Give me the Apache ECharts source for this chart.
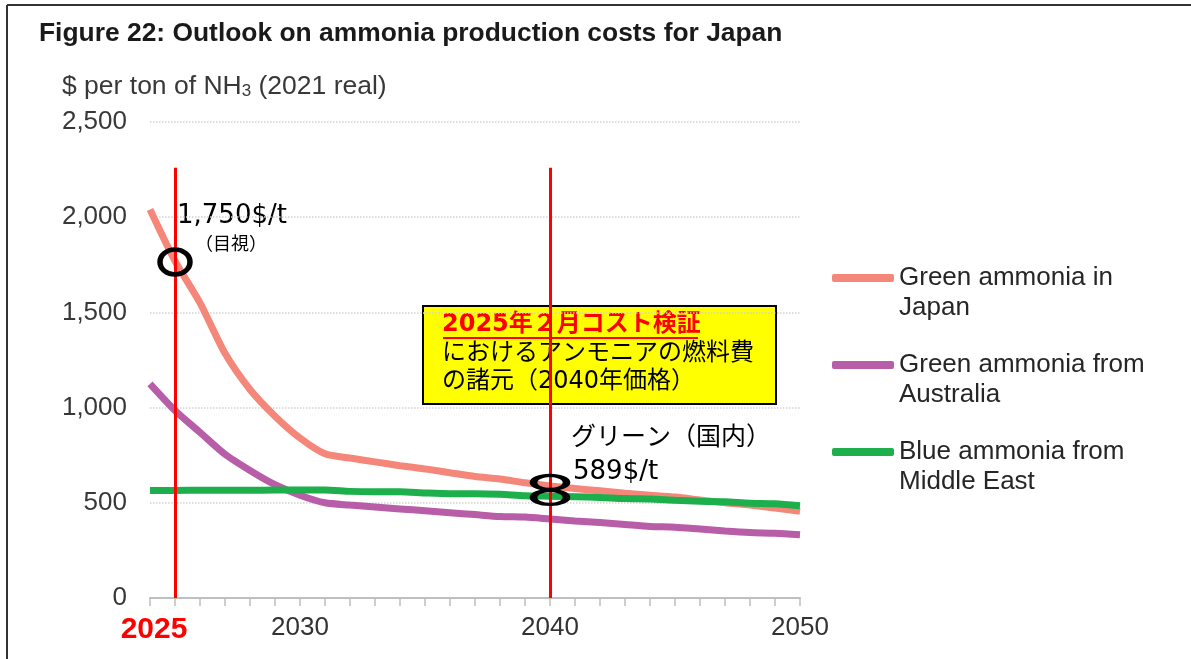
<!DOCTYPE html>
<html>
<head>
<meta charset="utf-8">
<script src="https://cdn.jsdelivr.net/npm/echarts@6/dist/echarts.min.js"></script>
<style>
  html, body { margin: 0; padding: 0; background: #fff; }
  #chart { width: 1191px; height: 659px; }
</style>
</head>
<body>
<div id="chart"></div>
<script>
// years on the x axis (one tick per year)
const years = [2024, 2025, 2026, 2027, 2028, 2029, 2030, 2031, 2032, 2033, 2034, 2035, 2036, 2037, 2038, 2039, 2040, 2041, 2042, 2043, 2044, 2045, 2046, 2047, 2048, 2049, 2050];

// $ per ton of NH3 (2021 real)
const greenJapan = [2040, 1770, 1550, 1285, 1095, 955, 840, 757, 735, 715, 695, 678, 658, 638, 625, 605, 589, 575, 563, 550, 540, 530, 515, 500, 488, 472, 455];
const greenAustralia = [1125, 985, 870, 755, 670, 595, 540, 500, 488, 478, 468, 458, 448, 438, 428, 425, 415, 405, 396, 386, 376, 372, 362, 352, 344, 340, 332];
const blueMiddleEast = [565, 565, 566, 566, 566, 567, 567, 567, 560, 558, 558, 552, 548, 548, 545, 537, 535, 532, 528, 522, 520, 513, 508, 505, 498, 495, 485];

const seriesNames = ['Green ammonia in\nJapan', 'Green ammonia from\nAustralia', 'Blue ammonia from\nMiddle East'];
const yTicks = [0, 500, 1000, 1500, 2000, 2500];

// annotations (red year lines, circled values)
const markYears = [2025, 2040];
const markTop = 2260;
const circled = [[2025, 1765], [2040, 607], [2040, 528]];

const colors = ['#F4877A', '#B85DA8', '#1DAF4B'];
const latin = 'Liberation Sans, Arial, sans-serif';
const jp = 'DejaVu Sans, Noto Sans CJK JP, sans-serif';

const pairs = vals => years.map((y, i) => [y, vals[i]]);

const chart = echarts.init(document.getElementById('chart'));

chart.setOption({
  animation: false,
  backgroundColor: '#fff',
  title: {
    text: 'Figure 22: Outlook on ammonia production costs for Japan',
    left: 39, top: 21, padding: 0,
    textStyle: { fontFamily: latin, fontSize: 26.4, fontWeight: 'bold', color: '#1a1a1a' }
  },
  grid: { left: 150, right: 391, top: 122, bottom: 61 },
  legend: {
    orient: 'vertical',
    left: 827, top: 228,
    itemWidth: 62, itemHeight: 8, itemGap: -3,
    icon: 'roundRect',
    // blank first line keeps the icon level with the first text line
    formatter: name => ' \n' + name,
    textStyle: { fontFamily: latin, fontSize: 26, lineHeight: 30, color: '#262626' },
    data: seriesNames
  },
  xAxis: {
    type: 'value',
    min: 2024, max: 2050, interval: 1,
    axisLine: { lineStyle: { color: '#bfbfbf', width: 2 } },
    axisTick: { show: true, length: 8, lineStyle: { color: '#bfbfbf', width: 1.5 } },
    splitLine: { show: false },
    axisLabel: {
      margin: 17,
      fontFamily: latin, fontSize: 26, color: '#333',
      formatter: v => v === 2025 ? '{r|2025}' : (v % 10 === 0 ? String(v) : ''),
      rich: {
        r: { fontFamily: latin, fontSize: 30, fontWeight: 'bold', color: '#ff0000', padding: [0, 42, 0, 0] }
      }
    }
  },
  yAxis: {
    type: 'value',
    min: yTicks[0], max: yTicks[yTicks.length - 1], interval: 500,
    axisLine: { show: false },
    axisTick: { show: false },
    splitLine: { lineStyle: { color: '#d2d2d2', width: 1.5, type: 'dotted' } },
    axisLabel: {
      margin: 23,
      fontFamily: latin, fontSize: 26, color: '#383838',
      formatter: v => v.toLocaleString('en-US')
    }
  },
  series: [
    {
      name: seriesNames[0], type: 'line', data: pairs(greenJapan),
      showSymbol: false, smooth: 0.25,
      lineStyle: { width: 7, color: colors[0] }, itemStyle: { color: colors[0] }
    },
    {
      name: seriesNames[1], type: 'line', data: pairs(greenAustralia),
      showSymbol: false, smooth: 0.25,
      lineStyle: { width: 7, color: colors[1] }, itemStyle: { color: colors[1] }
    },
    {
      name: seriesNames[2], type: 'line', data: pairs(blueMiddleEast),
      showSymbol: false, smooth: 0.25,
      lineStyle: { width: 7, color: colors[2] }, itemStyle: { color: colors[2] },
      markLine: {
        silent: true, symbol: 'none',
        label: { show: false },
        lineStyle: { color: '#ff0000', width: 3, type: 'solid' },
        data: markYears.map(y => [{ coord: [y, 0] }, { coord: [y, markTop] }])
      },
      markPoint: {
        silent: true,
        symbol: 'circle',
        label: { show: false },
        itemStyle: { color: 'rgba(0,0,0,0)', borderColor: '#000', borderWidth: 5 },
        data: circled.map((c, i) => ({ coord: c, symbolSize: i === 0 ? [30, 25] : [33, 14] }))
      }
    }
  ],
  graphic: [
    // frame
    { type: 'line', shape: { x1: 7, y1: 5, x2: 1191, y2: 5 }, style: { stroke: '#333', lineWidth: 2 } },
    { type: 'line', shape: { x1: 7, y1: 5, x2: 7, y2: 659 }, style: { stroke: '#333', lineWidth: 2 } },
    // y axis unit
    {
      type: 'text', left: 62, top: 73,
      style: {
        text: '$ per ton of NH{s|3} (2021 real)',
        font: '26.5px ' + latin, fill: '#383838',
        rich: { s: { fontSize: 17, fontFamily: latin, fill: '#383838', padding: [9, 0, 0, 0] } }
      }
    },
    // 2025 reading
    { type: 'text', x: 177, y: 216, style: { text: '1,750$/t', font: '26px ' + jp, fill: '#000', verticalAlign: 'middle' } },
    { type: 'text', x: 195, y: 245, style: { text: '（目視）', font: '18px ' + jp, fill: '#000', verticalAlign: 'middle' } },
    // 2040 reading
    { type: 'text', x: 571, y: 438, style: { text: 'グリーン（国内）', font: '25px ' + jp, fill: '#000', verticalAlign: 'middle' } },
    { type: 'text', x: 573, y: 472, style: { text: '589$/t', font: '26px ' + jp, fill: '#000', verticalAlign: 'middle' } },
    // yellow note
    { type: 'rect', shape: { x: 423, y: 306, width: 353, height: 98 }, style: { fill: '#ffff00', stroke: '#000', lineWidth: 2 } },
    { type: 'text', x: 442, y: 325, style: { text: '2025年２月コスト検証', font: 'bold 24px ' + jp, fill: '#ff0000', verticalAlign: 'middle' } },
    { type: 'line', shape: { x1: 443, y1: 338, x2: 698, y2: 338 }, style: { stroke: '#ff0000', lineWidth: 2 } },
    { type: 'text', x: 442, y: 354, style: { text: 'におけるアンモニアの燃料費', font: '24px ' + jp, fill: '#000', verticalAlign: 'middle' } },
    { type: 'text', x: 442, y: 382, style: { text: 'の諸元（2040年価格）', font: '24px ' + jp, fill: '#000', verticalAlign: 'middle' } }
  ]
});
</script>
</body>
</html>
